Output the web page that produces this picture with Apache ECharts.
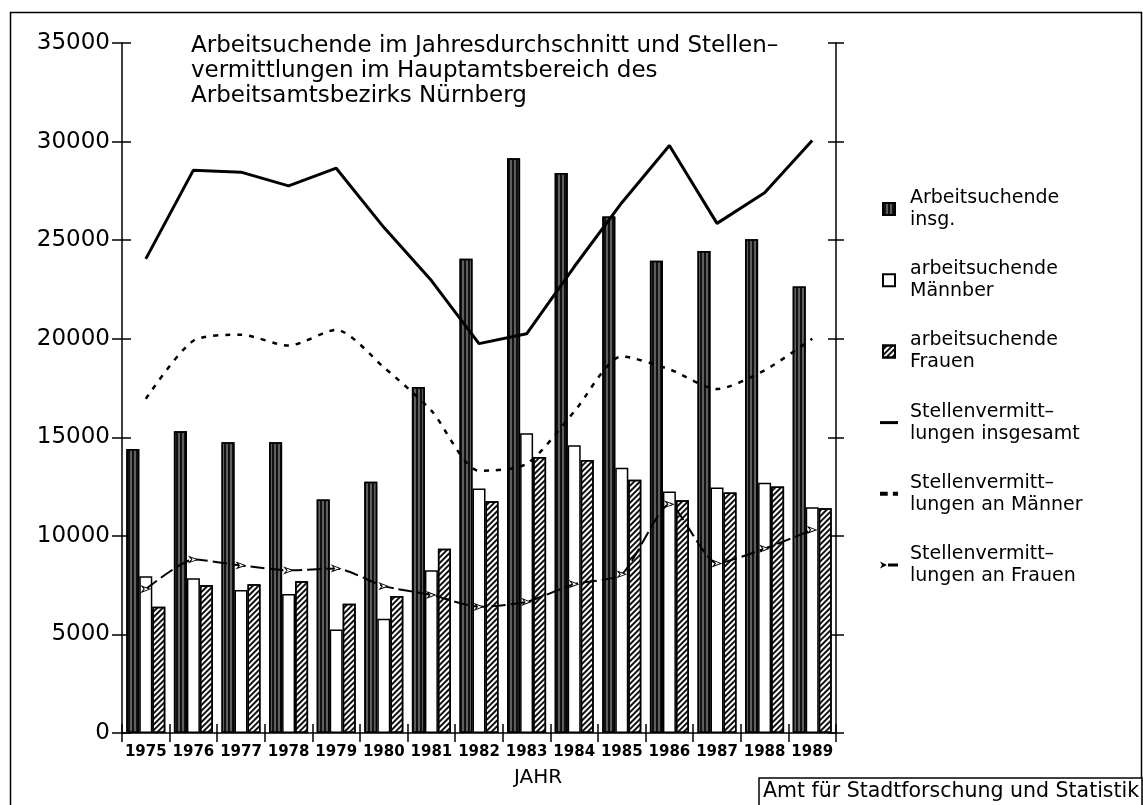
<!DOCTYPE html>
<html>
<head>
<meta charset="utf-8">
<script src="https://cdn.jsdelivr.net/npm/echarts@6/dist/echarts.min.js"></script>
<style>
html,body{margin:0;padding:0;background:#fff;}
#chart{width:1143px;height:805px;}
</style>
</head>
<body>
<div id="chart"></div>
<script>
// ---- data ----
const years = ['1975','1976','1977','1978','1979','1980','1981','1982','1983','1984','1985','1986','1987','1988','1989'];
const arbeitsuchendeInsg    = [14400, 15300, 14750, 14750, 11850, 12750, 17550, 24050, 29150, 28400, 26200, 23950, 24450, 25050, 22650];
const arbeitsuchendeMaenner = [7950, 7850, 7250, 7050, 5250, 5800, 8250, 12400, 15200, 14600, 13450, 12250, 12450, 12700, 11450];
const arbeitsuchendeFrauen  = [6400, 7500, 7550, 7700, 6550, 6950, 9350, 11750, 14000, 13850, 12850, 11800, 12200, 12500, 11400];
const stellenInsgesamt      = [24050, 28550, 28450, 27750, 28650, 25650, 22950, 19750, 20250, 23650, 26900, 29800, 25850, 27400, 30050];
const stellenMaenner        = [16950, 19900, 20200, 19650, 20450, 18550, 16350, 13300, 13650, 16300, 19100, 18450, 17450, 18400, 20000];
const stellenFrauen         = [7300, 8800, 8500, 8250, 8350, 7450, 7000, 6400, 6650, 7550, 8050, 11600, 8600, 9350, 10300];
const yMin = 0, yMax = 35000, yInterval = 5000;

const seriesNames = [
  'Arbeitsuchende insg.',
  'arbeitsuchende Männber',
  'arbeitsuchende Frauen',
  'Stellenvermittlungen insgesamt',
  'Stellenvermittlungen an Männer',
  'Stellenvermittlungen an Frauen'
];
const legendLabels = [
  'Arbeitsuchende\ninsg.',
  'arbeitsuchende\nMännber',
  'arbeitsuchende\nFrauen',
  'Stellenvermitt–\nlungen insgesamt',
  'Stellenvermitt–\nlungen an Männer',
  'Stellenvermitt–\nlungen an Frauen'
];
const titleText = 'Arbeitsuchende im Jahresdurchschnitt und Stellen–\nvermittlungen im Hauptamtsbereich des\nArbeitsamtsbezirks Nürnberg';
const xName = 'JAHR';
const sourceText = 'Amt für Stadtforschung und Statistik';

const FONT = 'DejaVu Sans';
const BLACK = '#000';

const chart = echarts.init(document.getElementById('chart'), null, {renderer: 'canvas'});

const yBase = {type: 'value', min: yMin, max: yMax, interval: yInterval, splitLine: {show: false}};
const squareIcon = 'path://M0,0h10v10h-10z';
const solidIcon = 'path://M0,0h18v3h-18z';
const dashIcon = 'path://M0,0h6v3h-6z M10,0h4v3h-4z';
const markIcon = 'path://M0,0L7,3.5L0,7L2,3.5z M8,2h10v3h-10z';

const option = {
  backgroundColor: '#fff',
  animation: false,
  textStyle: {fontFamily: FONT, color: BLACK},
  title: [
    {text: titleText, left: 191, top: 34, padding: 0,
     textStyle: {fontFamily: FONT, fontSize: 23, fontWeight: 'normal', lineHeight: 25, color: BLACK}},
    {text: xName, left: 514, top: 768, padding: 0,
     textStyle: {fontFamily: FONT, fontSize: 20, fontWeight: 'normal', color: BLACK}},
    {text: sourceText, left: 759, top: 778, padding: [3, 3, 6, 4], borderColor: BLACK, borderWidth: 1.5,
     backgroundColor: '#fff',
     textStyle: {fontFamily: FONT, fontSize: 20.5, fontWeight: 'normal', color: BLACK}}
  ],
  legend: {
    orient: 'vertical', left: 880, top: 176, padding: 0,
    itemWidth: 18, itemHeight: 12, itemGap: 5.2,
    selectedMode: false,
    textStyle: {fontFamily: FONT, fontSize: 19, color: BLACK, lineHeight: 22, padding: [22, 0, 0, 7]},
    formatter: name => legendLabels[seriesNames.indexOf(name)],
    data: [
      {name: seriesNames[0], icon: squareIcon},
      {name: seriesNames[1], icon: squareIcon},
      {name: seriesNames[2], icon: squareIcon},
      {name: seriesNames[3], icon: solidIcon, itemStyle: {color: BLACK}},
      {name: seriesNames[4], icon: dashIcon, itemStyle: {color: BLACK}},
      {name: seriesNames[5], icon: markIcon, itemStyle: {color: BLACK, borderWidth: 0}}
    ]
  },
  grid: {left: 122, right: 307, top: 43, bottom: 72, containLabel: false},
  xAxis: [
    {type: 'category', data: years, position: 'bottom',
     axisLine: {show: true, lineStyle: {color: BLACK, width: 1.5}},
     axisTick: {show: true, length: 9, lineStyle: {color: BLACK, width: 1.5}},
     axisLabel: {interval: 0, margin: 12, fontFamily: FONT, fontSize: 15, fontWeight: 'bold', color: BLACK}},
    {type: 'category', data: years, position: 'bottom',
     axisLine: {show: false},
     axisTick: {show: true, inside: true, length: 9, lineStyle: {color: BLACK, width: 1.5}},
     axisLabel: {show: false}}
  ],
  yAxis: [
    Object.assign({}, yBase, {position: 'left',
      axisLine: {show: true, lineStyle: {color: BLACK, width: 1.5}},
      axisTick: {show: true, length: 10, lineStyle: {color: BLACK, width: 1.5}},
      axisLabel: {margin: 12, fontFamily: FONT, fontSize: 23, color: BLACK, formatter: v => String(v)}}),
    Object.assign({}, yBase, {position: 'left',
      axisLine: {show: false},
      axisTick: {show: true, inside: true, length: 9, lineStyle: {color: BLACK, width: 1.5}},
      axisLabel: {show: false}}),
    Object.assign({}, yBase, {position: 'right',
      axisLine: {show: true, lineStyle: {color: BLACK, width: 1.5}},
      axisTick: {show: true, length: 8, lineStyle: {color: BLACK, width: 1.5}},
      axisLabel: {show: false}}),
    Object.assign({}, yBase, {position: 'right',
      axisLine: {show: false},
      axisTick: {show: true, inside: true, length: 8, lineStyle: {color: BLACK, width: 1.5}},
      axisLabel: {show: false}})
  ],
  series: [
    {name: seriesNames[0], type: 'bar', data: arbeitsuchendeInsg, barWidth: 13, barGap: '0%',
     itemStyle: {color: '#5e5e5e', borderColor: BLACK, borderWidth: 1.5,
       decal: {symbol: 'rect', symbolSize: 1, color: '#111', dashArrayX: [2, 2], dashArrayY: [1, 0], rotation: 0}}},
    {name: seriesNames[1], type: 'bar', data: arbeitsuchendeMaenner, barWidth: 13, barGap: '0%',
     itemStyle: {color: '#fff', borderColor: BLACK, borderWidth: 1.5}},
    {name: seriesNames[2], type: 'bar', data: arbeitsuchendeFrauen, barWidth: 13, barGap: '0%',
     itemStyle: {color: '#fff', borderColor: BLACK, borderWidth: 1.5,
       decal: {symbol: 'rect', symbolSize: 1, color: '#111', dashArrayX: [1, 0], dashArrayY: [1.6, 1.9], rotation: -Math.PI / 4}}},
    {name: seriesNames[3], type: 'line', data: stellenInsgesamt, symbol: 'none',
     lineStyle: {color: BLACK, width: 3}, itemStyle: {color: BLACK}},
    {name: seriesNames[4], type: 'line', data: stellenMaenner, symbol: 'none', smooth: 0.25,
     lineStyle: {color: BLACK, width: 2.5, type: [5, 7]}, itemStyle: {color: BLACK}},
    {name: seriesNames[5], type: 'line', data: stellenFrauen, smooth: 0.2,
     symbol: 'path://M0,0L10,5L0,10L3,5z', symbolSize: [8, 6], symbolRotate: 0,
     lineStyle: {color: BLACK, width: 2, type: [14, 5]}, itemStyle: {color: '#fff', borderColor: BLACK, borderWidth: 1}}
  ],
  graphic: [
    {type: 'rect', left: 8, top: 10, silent: true, z: -10,
     shape: {width: 1131, height: 800}, style: {fill: null, stroke: BLACK, lineWidth: 1.5}}
  ]
};
chart.setOption(option);
</script>
</body>
</html>
